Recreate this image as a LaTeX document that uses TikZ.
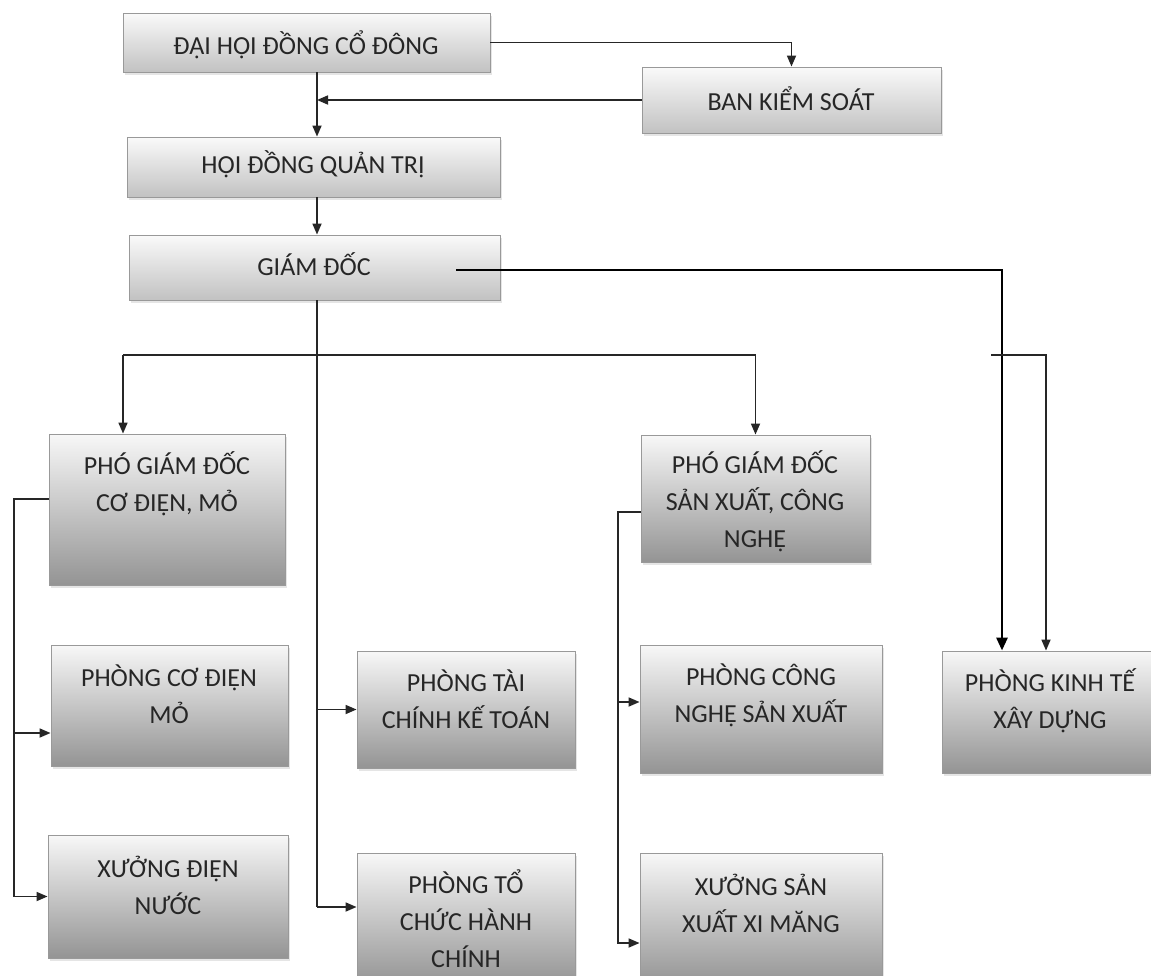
\documentclass[tikz,border=0pt]{standalone}
\usepackage{fontspec}
\setmainfont{Carlito}
\usetikzlibrary{arrows.meta,shadows,calc}
\begin{document}
\begin{tikzpicture}[x=1pt,y=-1pt,
  orgbox/.style={draw=black!40, line width=0.9pt, inner sep=0pt,
    drop shadow={opacity=0.2,shadow xshift=2pt,shadow yshift=-2.5pt}},
  topbox/.style={orgbox, top color=black!2, bottom color=black!24},
  lowbox/.style={orgbox, top color=black!3, bottom color=black!42},
  lbl/.style={font=\fontsize{26}{37}\selectfont, text=black!85, align=center, inner sep=0pt},
  conn/.style={draw=black!85, line width=1.7pt},
  arr/.style={conn, -{Triangle[length=11pt,width=9pt]}},
  thickarr/.style={draw=black, line width=2.8pt, -{Triangle[length=13pt,width=11pt]}}
]
\useasboundingbox (0,0) rectangle (1151,975);
\fill[white] (0,0) rectangle (1151,975);
\begin{scope}
\clip (0,0) rectangle (1151,975);

% boxes
\node[topbox, minimum width=367pt, minimum height=59pt] (dh)   at (306.5,42.5) {};
\node[topbox, minimum width=299pt, minimum height=66pt] (bks)  at (791.5,100) {};
\node[topbox, minimum width=373pt, minimum height=60pt] (hdqt) at (313.5,167) {};
\node[topbox, minimum width=371pt, minimum height=65pt] (gd)   at (314.5,267.5) {};
\node[lowbox, minimum width=236pt, minimum height=151pt] (pgd1) at (167,509.5) {};
\node[lowbox, minimum width=229pt, minimum height=127pt] (pgd2) at (755.5,498.5) {};
\node[lowbox, minimum width=237pt, minimum height=121pt] (pcdm) at (169.5,705.5) {};
\node[lowbox, minimum width=240pt, minimum height=123pt] (xdn)  at (168,896.5) {};
\node[lowbox, minimum width=218pt, minimum height=117pt] (ptckt) at (466,709.5) {};
\node[lowbox, minimum width=218pt, minimum height=132pt] (ptchc) at (466,919) {};
\node[lowbox, minimum width=242pt, minimum height=128pt] (pcnsx) at (761,709) {};
\node[lowbox, minimum width=242pt, minimum height=132pt] (xsx)  at (761,919) {};
\node[lowbox, minimum width=223pt, minimum height=122pt] (pktxd) at (1053.5,712) {};

% texts
\node[lbl] (dht)   at (306,45)  {ĐẠI HỘI ĐỒNG CỔ ĐÔNG};
\node[lbl] (bkst)  at (791,99)  {BAN KIỂM SOÁT};
\node[lbl] (hdqtt) at (313,164) {HỘI ĐỒNG QUẢN TRỊ};
\node[lbl] (gdt)   at (314,264) {GIÁM ĐỐC};
\node[lbl] (pgd1t) at (167,484) {PHÓ GIÁM ĐỐC\\CƠ ĐIỆN, MỎ};
\node[lbl] (pgd2t) at (755,501) {PHÓ GIÁM ĐỐC\\SẢN XUẤT, CÔNG\\NGHỆ};
\node[lbl] (pcdmt) at (169,694) {PHÒNG CƠ ĐIỆN\\MỎ};
\node[lbl] (xdnt)  at (168,885) {XƯỞNG ĐIỆN\\NƯỚC};
\node[lbl] (ptcktt) at (466,699) {PHÒNG TÀI\\CHÍNH KẾ TOÁN};
\node[lbl] (ptchct) at (466,919) {PHÒNG TỔ\\CHỨC HÀNH\\CHÍNH};
\node[lbl] (pcnsxt) at (761,695) {PHÒNG CÔNG\\NGHỆ SẢN XUẤT};
\node[lbl] (xsxt)  at (761,903) {XƯỞNG SẢN\\XUẤT XI MĂNG};
\node[lbl] (pktxdt) at (1050,701) {PHÒNG KINH TẾ\\XÂY DỰNG};

% helper coordinates
\coordinate (sp) at (317,0);
\coordinate (busL) at (14,0);
\coordinate (busR) at (618,0);
\coordinate (h) at (0,355);
\coordinate (pB) at ([xshift=-44pt]pgd1.north);
\coordinate (pL) at ([yshift=10.5pt]pgd1.west);
\coordinate (pR) at ([yshift=-13.5pt]pgd2.west);
\coordinate (pA) at ([yshift=-27.5pt]pcdm.west);
\coordinate (pF) at ([yshift=12pt]ptchc.west);
\coordinate (pX) at ([yshift=-24pt]xsx.west);
\coordinate (pC) at ([yshift=7pt]pcnsx.west);
\coordinate (gS) at ([xshift=-44pt,yshift=-2.5pt]gd.east);
\coordinate (pK1) at ([xshift=-51.5pt]pktxd.north);
\coordinate (pK2) at ([xshift=-7.5pt]pktxd.north);
\coordinate (kS) at (991,355);

% top connectors
\draw[arr] (dh.east) -| (bks.north);
\draw[arr] (bks.west) -- (bks.west -| sp);
\draw[arr] (dh.south -| sp) -- (hdqt.north -| sp);
\draw[arr] (hdqt.south -| sp) -- (gd.north -| sp);

% director spine
\draw[conn] (gd.south -| sp) -- (pF -| sp);
\draw[arr] (ptckt.west -| sp) -- (ptckt.west);
\draw[arr] (pF -| sp) -- (pF);

% deputy directors
\draw[arr] (pB |- h) -- (pB);
\draw[arr] (pB |- h) -- (pgd2.north |- h) -- (pgd2.north);

% left bus
\draw[arr] (pL) -| (busL |- xdn.west) -- (xdn.west);
\draw[arr] (pA -| busL) -- (pA);

% right bus
\draw[arr] (pR) -| (busR |- pX) -- (pX);
\draw[arr] (pC -| busR) -- (pC);

% economics department
\draw[thickarr] (gS) -| (pK1);
\draw[arr] (kS) -| (pK2);
\end{scope}
\end{tikzpicture}
\end{document}
